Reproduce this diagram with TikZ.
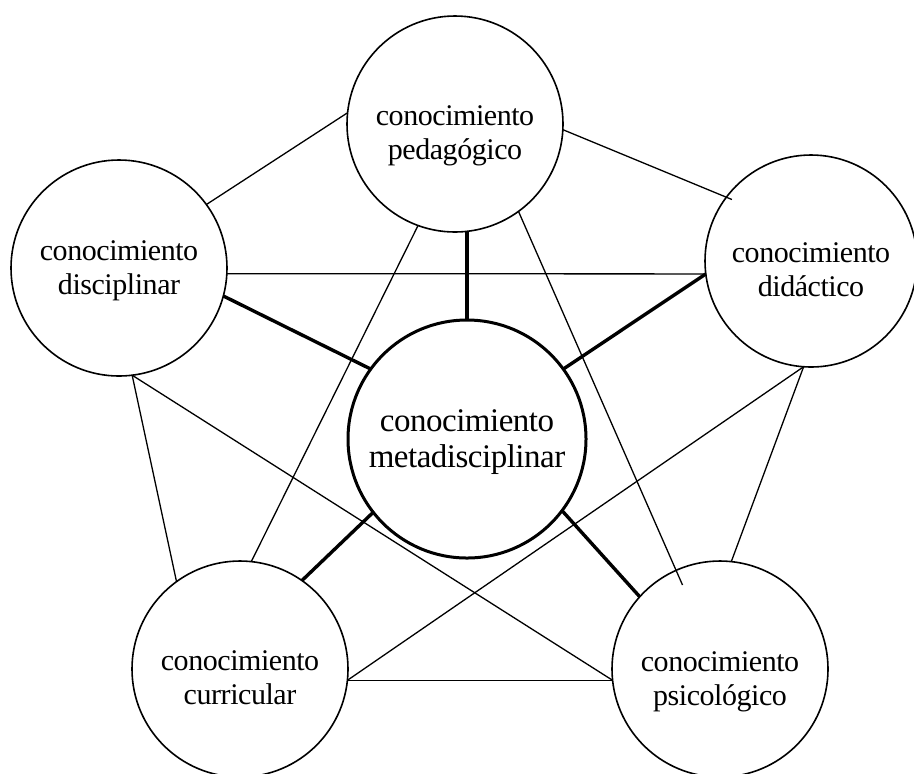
\documentclass[tikz,border=0pt]{standalone}
\usepackage{fontspec}
\setmainfont{Liberation Serif}
\newfontfamily\rotfont[LetterSpace=-1.5]{Liberation Serif}
\usepackage{tikz}

\begin{document}
\begin{tikzpicture}[
  x=0.5pt, y=-0.5pt,
  saber/.style={draw, circle, line width=0.8pt, minimum size=108pt,
                inner sep=0pt, outer sep=0pt},
  nucleo/.style={saber, line width=1.5pt, minimum size=119pt},
  rotulo/.style={align=center, inner sep=0pt,
                 font=\rotfont\fontsize{15}{17}\selectfont},
  rotuloG/.style={rotulo, font=\rotfont\fontsize{16.5}{18.3}\selectfont},
  enlace/.style={line width=0.65pt},
  fuerte/.style={line width=1.7pt}
]
  \useasboundingbox (0,0) rectangle (914,773);

  % los cinco saberes y el centro
  \node[saber] (ped) at (455,124) {};
  \node[saber] (dis) at (119,268) {};
  \node[saber, minimum size=106pt] (did) at (811,261) {};
  \node[saber] (cur) at (240,669) {};
  \node[saber] (psi) at (720,669) {};
  \node[nucleo] (nuc) at (467,439) {};

  \node[rotulo] (ped-t) at ([yshift=-6pt]ped.center) {conocimiento\\pedagógico};
  \node[rotulo] (dis-t) at ([yshift=-1.5pt]dis.center) {conocimiento\\disciplinar};
  \node[rotulo] (did-t) at ([yshift=-4.5pt]did.center) {conocimiento\\didáctico};
  \node[rotulo] (cur-t) at ([yshift=-4.5pt]cur.center) {conocimiento\\curricular};
  \node[rotulo] (psi-t) at ([yshift=-6.5pt]psi.center) {conocimiento\\psicológico};
  \node[rotuloG] (nuc-t) at ([yshift=-1.5pt]nuc.center) {conocimiento\\metadisciplinar};

  % enlaces entre saberes
  \draw[enlace] (dis.36) -- (ped.174);
  \draw[enlace, shorten >=-3pt] (ped.-3) -- (did.143);
  \draw[enlace] (dis.-3) -- (did.187);
  \draw[enlace] (dis.-83) -- (cur.126);
  \draw[enlace] (dis.-83) -- (psi.186);
  \draw[enlace] (ped.250) -- (cur.84);
  \draw[enlace, shorten >=-8pt] (ped.-54) -- (psi.114);
  \draw[enlace] (did.-94) -- (cur.-6);
  \draw[enlace] (did.-94) -- (psi.84);
  \draw[enlace] (cur.-6) -- (psi.186);

  % enlaces con el centro
  \draw[fuerte] (nuc.north) -- (nuc.north |- ped.south);
  \draw[fuerte] (dis.-15) -- (nuc.144);
  \draw[fuerte] (did.187) -- (nuc.36);
  \draw[fuerte] (nuc.218) -- (cur.55);
  \draw[fuerte] (nuc.-37) -- (psi.138);
\end{tikzpicture}
\end{document}
